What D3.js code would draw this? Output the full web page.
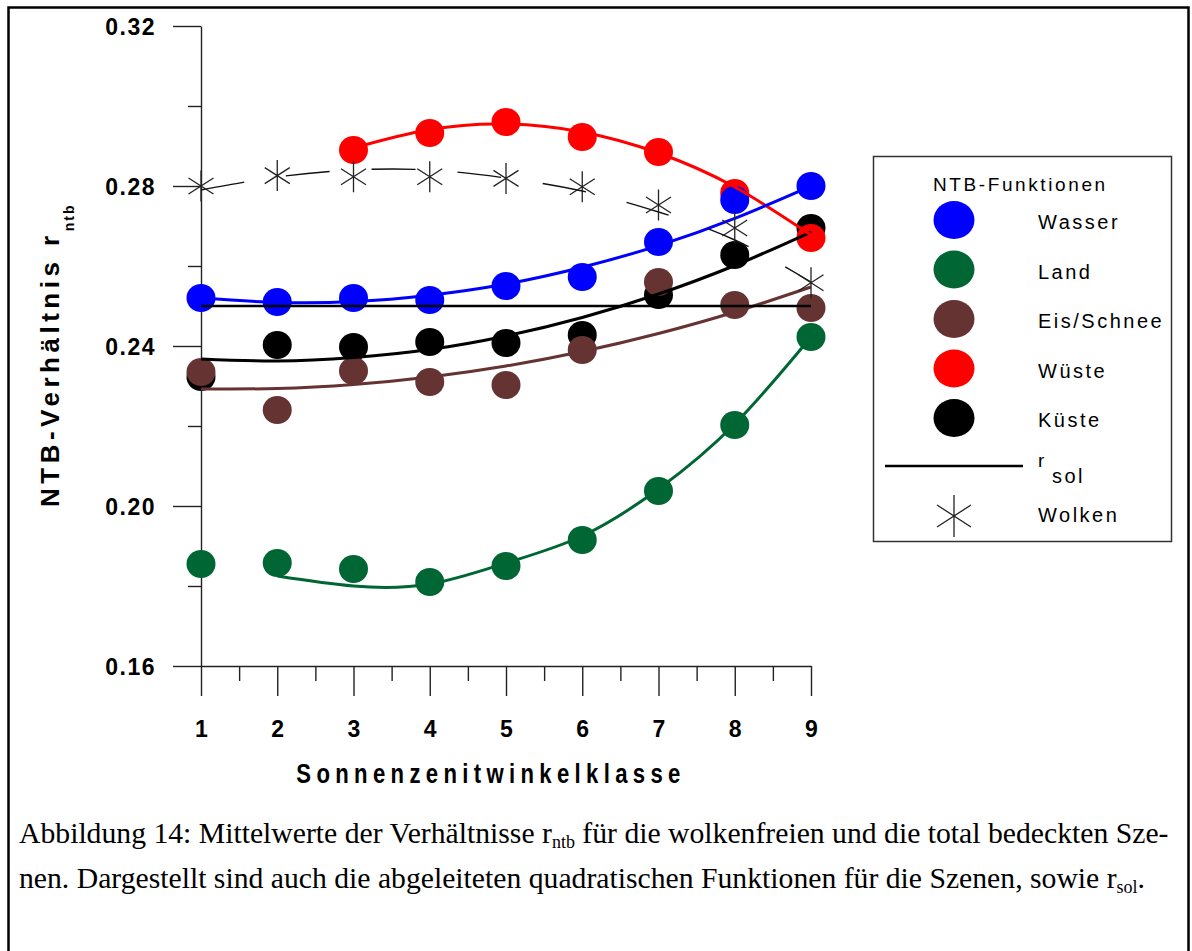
<!DOCTYPE html>
<html>
<head>
<meta charset="utf-8">
<script src="https://cdn.jsdelivr.net/npm/d3@7"></script>
<style>
  body { margin: 0; background: #fff; }
  svg { display: block; }
</style>
</head>
<body>
<svg id="chart" width="1192" height="951"></svg>
<script>
// Sonnenzenitwinkelklassen
const klassen = [1, 2, 3, 4, 5, 6, 7, 8, 9];
const xMinor = [1.5, 2.5, 3.5, 4.5, 5.5, 6.5, 7.5, 8.5];
const yTicks = [0.16, 0.20, 0.24, 0.28, 0.32];
const yMinor = [0.18, 0.22, 0.26, 0.30];

// Mittelwerte r_ntb
const wasser = [0.252, 0.251, 0.252, 0.2515, 0.255, 0.25725, 0.266, 0.2765, 0.280];
const land   = [0.1855, 0.18575, 0.18425, 0.181, 0.185, 0.1915, 0.20375, 0.22025, 0.24225];
const eis    = [0.2335, 0.224, 0.23375, 0.231, 0.23025, 0.239, 0.256, 0.25025, 0.2495];
const wueste = [null, null, 0.289, 0.29325, 0.296, 0.29225, 0.2885, 0.27825, 0.267];
const kueste = [0.23225, 0.24025, 0.23975, 0.241, 0.24075, 0.24275, 0.25275, 0.26275, 0.2695];
const wolken = [0.280, 0.2826, 0.2823, 0.2823, 0.2819, 0.2798, 0.27525, 0.2695, 0.2558];
const rSol = 0.25;

const wasserFit = [0.252, 0.2509, 0.2511, 0.2527, 0.2555, 0.2597, 0.2651, 0.2719, 0.280];
const landFit   = [null, 0.1825, 0.180, 0.1805, 0.18575, 0.1925, 0.20425, 0.2205, 0.24225];
const eisFit    = [0.22925, 0.229375, 0.230375, 0.23225, 0.235, 0.238625, 0.243125, 0.2485, 0.25475];
const wuesteFit = [null, null, 0.2895, 0.294125, 0.2955, 0.2935, 0.28825, 0.27975, 0.26775];
const kuesteFit = [0.23675, 0.23625, 0.237125, 0.239125, 0.2425, 0.247125, 0.253, 0.260125, 0.2685];
const wolkenFit = [0.279, 0.28225, 0.284, 0.284, 0.282, 0.27875, 0.2735, 0.2665, 0.256];

const legendNames = ['Wasser', 'Land', 'Eis/Schnee', 'Wüste', 'Küste'];
const colors = ['#0000ff', '#006633', '#663333', '#ff0000', '#000000'];

const svg = d3.select('#chart');
const sans = '"Liberation Sans", Arial, Helvetica, sans-serif';
const serif = '"Liberation Serif", "Times New Roman", Times, serif';

// Rahmen
svg.append('rect')
  .attr('x', 8.5).attr('y', 7.5)
  .attr('width', 1180).attr('height', 980)
  .attr('fill', 'none').attr('stroke', '#000').attr('stroke-width', 2.5);

const x = d3.scaleLinear().domain([1, 9]).range([201, 811]);
const y = d3.scaleLinear().domain([0.16, 0.32]).range([666, 26]);

// Achsen
const yAxis = svg.append('g').attr('transform', 'translate(201,0)')
  .call(d3.axisLeft(y).tickValues(yTicks).tickSize(28).tickSizeOuter(0)
    .tickPadding(17).tickFormat(d3.format('.2f')));
svg.append('g').attr('transform', 'translate(201,0)')
  .call(d3.axisLeft(y).tickValues(yMinor).tickSize(13).tickFormat(''))
  .select('.domain').remove();

const xAxis = svg.append('g').attr('transform', 'translate(0,666)')
  .call(d3.axisBottom(x).tickValues(klassen).tickSize(30).tickSizeOuter(0)
    .tickFormat(d3.format('d')));
svg.append('g').attr('transform', 'translate(0,666)')
  .call(d3.axisBottom(x).tickValues(xMinor).tickSize(15).tickFormat(''))
  .select('.domain').remove();

svg.selectAll('.domain, .tick line')
  .attr('stroke', '#222').attr('stroke-width', 1.4);

yAxis.selectAll('text')
  .attr('dy', '0.36em')
  .style('font-family', sans).style('font-weight', 'bold')
  .style('font-size', '23px').style('letter-spacing', '1.5px').attr('fill', '#000');

xAxis.selectAll('text')
  .attr('y', 71).attr('dy', null)
  .style('font-family', sans).style('font-weight', 'bold')
  .style('font-size', '23px').attr('fill', '#000');

// Achsentitel (schmal gesetzt)
svg.append('text')
  .attr('transform', 'translate(491,783) scale(0.82,1)')
  .attr('text-anchor', 'middle')
  .style('font-family', sans).style('font-weight', 'bold')
  .style('font-size', '27px').style('letter-spacing', '6.5px')
  .text('Sonnenzenitwinkelklasse');

const yTitle = svg.append('text')
  .attr('transform', 'translate(59,507) rotate(-90)')
  .style('font-family', sans).style('font-weight', 'bold')
  .style('font-size', '26px').style('letter-spacing', '4.5px');
yTitle.append('tspan').text('NTB-Verhältnis r');
yTitle.append('tspan').attr('dy', 15).style('font-size', '14px')
  .style('letter-spacing', '2px').text('ntb');

// Punkte, Reihenfolge wie im Original übereinander
const series = [
  { name: 'Küste', values: kueste, fit: kuesteFit, color: colors[4] },
  { name: 'Eis/Schnee', values: eis, fit: eisFit, color: colors[2] },
  { name: 'Land', values: land, fit: landFit, color: colors[1] },
  { name: 'Wüste', values: wueste, fit: wuesteFit, color: colors[3] },
  { name: 'Wasser', values: wasser, fit: wasserFit, color: colors[0] }
];

series.forEach(s => {
  svg.append('g').selectAll('ellipse')
    .data(klassen.map((k, i) => ({ k, v: s.values[i] })).filter(d => d.v != null))
    .enter().append('ellipse')
    .attr('cx', d => x(d.k)).attr('cy', d => y(d.v))
    .attr('rx', 14.5).attr('ry', 14)
    .attr('fill', s.color);
});

// Kurven
const line = d3.line()
  .defined(d => d.v != null)
  .x(d => x(d.k)).y(d => y(d.v))
  .curve(d3.curveNatural);

series.forEach(s => {
  const pts = klassen.map((k, i) => ({ k, v: s.fit[i] })).filter(d => d.v != null);
  svg.append('path')
    .attr('d', line(pts))
    .attr('fill', 'none').attr('stroke', s.color).attr('stroke-width', 3);
});

// r_sol
svg.append('line')
  .attr('x1', x(1)).attr('x2', x(9))
  .attr('y1', y(rSol)).attr('y2', y(rSol))
  .attr('stroke', '#000').attr('stroke-width', 2.5);

// Wolken
svg.append('path')
  .attr('d', line(klassen.map((k, i) => ({ k, v: wolkenFit[i] }))))
  .attr('fill', 'none').attr('stroke', '#111').attr('stroke-width', 1.4)
  .attr('stroke-dasharray', '44,42');

function asterisk(g, cx, cy, h, w, dh) {
  return g.append('path')
    .attr('d', `M${cx},${cy - h / 2}V${cy + h / 2}` +
      `M${cx - w / 2},${cy - dh / 2}L${cx + w / 2},${cy + dh / 2}` +
      `M${cx - w / 2},${cy + dh / 2}L${cx + w / 2},${cy - dh / 2}`)
    .attr('fill', 'none').attr('stroke', '#222').attr('stroke-width', 1.3);
}
const wg = svg.append('g');
klassen.forEach((k, i) => asterisk(wg, x(k), y(wolken[i]), 31, 25, 16));

// Legende
const lg = svg.append('g');
lg.append('rect')
  .attr('x', 873.5).attr('y', 156.5).attr('width', 298).attr('height', 385)
  .attr('fill', '#fff').attr('stroke', '#333').attr('stroke-width', 1.5);
lg.append('text')
  .attr('x', 933).attr('y', 191)
  .style('font-family', sans).style('font-size', '19px').style('letter-spacing', '2.6px')
  .text('NTB-Funktionen');

const legendRow = d3.scaleLinear().domain([0, 1]).range([220, 269.5]);
legendNames.forEach((n, i) => {
  const cy = legendRow(i);
  lg.append('ellipse').attr('cx', 954).attr('cy', cy).attr('rx', 20.5).attr('ry', 19)
    .attr('fill', colors[i]);
  lg.append('text').attr('x', 1038).attr('y', cy + 9)
    .style('font-family', sans).style('font-size', '20px').style('letter-spacing', '2.5px')
    .text(n);
});
lg.append('line').attr('x1', 885).attr('x2', 1023).attr('y1', 466).attr('y2', 466)
  .attr('stroke', '#000').attr('stroke-width', 2.5);
lg.append('text').attr('x', 1038).attr('y', 467)
  .style('font-family', sans).style('font-size', '19px').text('r');
lg.append('text').attr('x', 1052).attr('y', 483)
  .style('font-family', sans).style('font-size', '20px').style('letter-spacing', '2.5px').text('sol');
asterisk(lg, 954, 516, 42, 34, 22);
lg.append('text').attr('x', 1038).attr('y', 522)
  .style('font-family', sans).style('font-size', '20px').style('letter-spacing', '2.5px')
  .text('Wolken');

// Bildunterschrift
const c1 = svg.append('text').attr('x', 19).attr('y', 843)
  .style('font-family', serif).style('font-size', '29.7px');
c1.append('tspan').text('Abbildung 14: Mittelwerte der Verhältnisse r');
c1.append('tspan').attr('dy', 5).style('font-size', '18px').text('ntb');
c1.append('tspan').attr('dy', -5).text(' für die wolkenfreien und die total bedeckten Sze-');

const c2 = svg.append('text').attr('x', 19).attr('y', 888)
  .style('font-family', serif).style('font-size', '29.7px');
c2.append('tspan').text('nen. Dargestellt sind auch die abgeleiteten quadratischen Funktionen für die Szenen, sowie r');
c2.append('tspan').attr('dy', 5).style('font-size', '18px').text('sol');
c2.append('tspan').attr('dy', -5).text('.');
</script>
</body>
</html>
